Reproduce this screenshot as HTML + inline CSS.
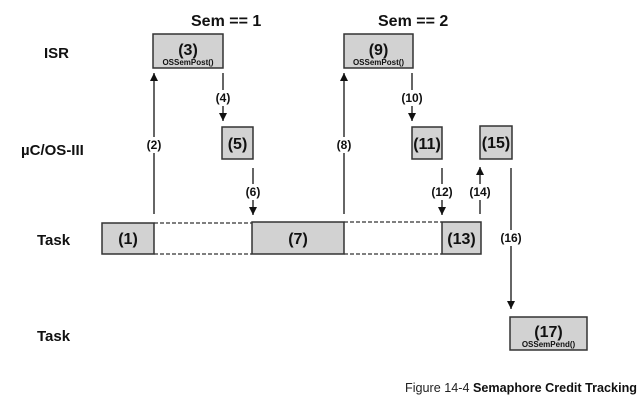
<!DOCTYPE html>
<html><head><meta charset="utf-8"><style>
html,body{margin:0;padding:0;background:#fff;}
svg{display:block;}
text{font-family:"Liberation Sans",Arial,sans-serif;font-weight:bold;fill:#111;}
</style></head><body>
<svg width="643" height="406" viewBox="0 0 643 406" xmlns="http://www.w3.org/2000/svg">
<defs>
<marker id="ah" viewBox="0 0 10 10" refX="10" refY="5" markerWidth="8" markerHeight="8" markerUnits="userSpaceOnUse" orient="auto">
<path d="M0,0 L10,5 L0,10 z" fill="#111"/>
</marker>
</defs>
<!-- left labels -->
<text x="44" y="58" font-size="15">ISR</text>
<text x="21" y="155" font-size="15">µC/OS-III</text>
<text x="37" y="245" font-size="15">Task</text>
<text x="37" y="341" font-size="15">Task</text>
<!-- headers -->
<text x="191" y="26" font-size="16">Sem == 1</text>
<text x="378" y="26" font-size="16">Sem == 2</text>

<g stroke="#333" stroke-width="1.5" fill="#d2d2d2">
<rect x="153" y="34" width="70" height="34"/>
<rect x="344" y="34" width="69" height="34"/>
<rect x="222" y="127" width="31" height="32"/>
<rect x="412" y="127" width="30" height="32"/>
<rect x="480" y="126" width="32" height="33"/>
<rect x="102" y="223" width="52" height="31"/>
<rect x="252" y="222" width="92" height="32"/>
<rect x="442" y="222" width="39" height="32"/>
<rect x="510" y="317" width="77" height="33"/>
</g>
<!-- dashed -->
<g stroke="#333" stroke-width="1.2" stroke-dasharray="4,2">
<line x1="154" y1="223" x2="252" y2="223"/>
<line x1="154" y1="254" x2="252" y2="254"/>
<line x1="344" y1="222" x2="442" y2="222"/>
<line x1="344" y1="254" x2="442" y2="254"/>
</g>
<!-- box labels -->
<g text-anchor="middle">
<text x="188" y="55" font-size="16">(3)</text>
<text x="188" y="65" font-size="8">OSSemPost()</text>
<text x="378.5" y="55" font-size="16">(9)</text>
<text x="378.5" y="65" font-size="8">OSSemPost()</text>
<text x="237.5" y="149" font-size="16">(5)</text>
<text x="427" y="149" font-size="16">(11)</text>
<text x="496" y="148" font-size="16">(15)</text>
<text x="128" y="244" font-size="16">(1)</text>
<text x="298" y="244" font-size="16">(7)</text>
<text x="461.5" y="244" font-size="16">(13)</text>
<text x="548.5" y="337" font-size="16">(17)</text>
<text x="548.5" y="347" font-size="8">OSSemPend()</text>
</g>
<!-- connectors -->
<g stroke="#333" stroke-width="1.5" fill="none">
<line x1="154" y1="214" x2="154" y2="153"/>
<line x1="154" y1="137" x2="154" y2="73" marker-end="url(#ah)"/>
<line x1="223" y1="73" x2="223" y2="90"/>
<line x1="223" y1="106" x2="223" y2="121" marker-end="url(#ah)"/>
<line x1="253" y1="168" x2="253" y2="184"/>
<line x1="253" y1="200" x2="253" y2="215" marker-end="url(#ah)"/>
<line x1="344" y1="214" x2="344" y2="153"/>
<line x1="344" y1="137" x2="344" y2="73" marker-end="url(#ah)"/>
<line x1="412" y1="73" x2="412" y2="90"/>
<line x1="412" y1="106" x2="412" y2="121" marker-end="url(#ah)"/>
<line x1="442" y1="168" x2="442" y2="184"/>
<line x1="442" y1="200" x2="442" y2="215" marker-end="url(#ah)"/>
<line x1="480" y1="214" x2="480" y2="200"/>
<line x1="480" y1="184" x2="480" y2="167" marker-end="url(#ah)"/>
<line x1="511" y1="168" x2="511" y2="230"/>
<line x1="511" y1="246" x2="511" y2="309" marker-end="url(#ah)"/>
</g>
<g text-anchor="middle" font-size="12">
<text x="154" y="149" font-size="12">(2)</text>
<text x="223" y="102" font-size="12">(4)</text>
<text x="253" y="196" font-size="12">(6)</text>
<text x="344" y="149" font-size="12">(8)</text>
<text x="412" y="102" font-size="12">(10)</text>
<text x="442" y="196" font-size="12">(12)</text>
<text x="480" y="196" font-size="12">(14)</text>
<text x="511" y="242" font-size="12">(16)</text>
</g>
<!-- caption -->
<text x="405" y="392" font-size="12.6" textLength="232" lengthAdjust="spacingAndGlyphs"><tspan font-weight="normal" fill="#222">Figure 14-4 </tspan>Semaphore Credit Tracking</text>
</svg>
</body></html>
